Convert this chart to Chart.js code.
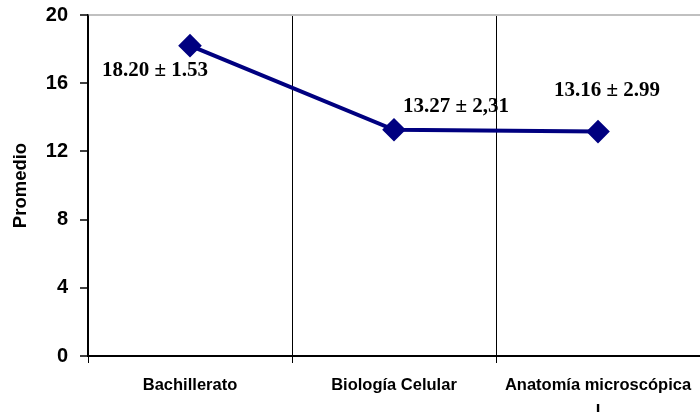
<!DOCTYPE html>
<html>
<head>
<meta charset="utf-8">
<script src="https://cdn.jsdelivr.net/npm/chart.js@4/dist/chart.umd.min.js"></script>
<style>
    html, body { margin: 0; padding: 0; background: #fff; overflow: hidden; }
    canvas { display: block; }
</style>
</head>
<body>
<canvas id="graficoPromedio" width="700" height="412"></canvas>
<script>
const categorias = [
    "Bachillerato",
    "Biología Celular",
    ["Anatomía microscópica", "I"]
];
const promedios = [18.20, 13.27, 13.16];
const etiquetas = ["18.20 ± 1.53", "13.27 ± 2,31", "13.16 ± 2.99"];
const marcasY = [0, 4, 8, 12, 16, 20];

// desplazamiento de cada etiqueta respecto a su punto
const desplazamientos = [[-35, 25], [62, -23], [9, -41]];

const etiquetasPlugin = {
    id: "etiquetasPromedio",
    afterDatasetsDraw(chart) {
        const ctx = chart.ctx;
        const puntos = chart.getDatasetMeta(0).data;
        ctx.save();
        ctx.font = "bold 21px 'Liberation Serif', 'Times New Roman', serif";
        ctx.fillStyle = "#000";
        ctx.textAlign = "center";
        ctx.textBaseline = "middle";
        puntos.forEach((p, i) => {
            const d = desplazamientos[i];
            ctx.fillText(etiquetas[i], p.x + d[0], p.y + d[1]);
        });
        ctx.restore();
    }
};

const ctx = document.getElementById("graficoPromedio").getContext("2d");

new Chart(ctx, {
    type: "line",
    data: {
        labels: categorias,
        datasets: [{
            data: promedios,
            borderColor: "#000080",
            backgroundColor: "#000080",
            borderWidth: 4,
            pointStyle: "rectRot",
            pointRadius: 9,
            pointHoverRadius: 9,
            tension: 0
        }]
    },
    options: {
        responsive: false,
        devicePixelRatio: 1,
        animation: false,
        events: [],
        layout: {
            autoPadding: false,
            padding: { top: 15, right: 0, left: 0, bottom: 0 }
        },
        plugins: {
            legend: { display: false },
            tooltip: { enabled: false }
        },
        scales: {
            x: {
                type: "category",
                offset: true,
                afterFit(scale) {
                    scale.height = 56;
                    scale.paddingLeft = 0;
                    scale.paddingRight = 0;
                },
                grid: {
                    offset: true,
                    color: "#000",
                    lineWidth: 1,
                    tickLength: 7
                },
                border: { color: "#000", width: 2 },
                ticks: {
                    color: "#000",
                    padding: 9,
                    maxRotation: 0,
                    autoSkip: false,
                    font: { family: "'Liberation Sans', Arial, sans-serif", size: 16.5, weight: "bold", lineHeight: 1.6 }
                }
            },
            y: {
                min: 0,
                max: 20,
                afterFit(scale) {
                    scale.width = 88;
                    scale.paddingTop = 0;
                    scale.paddingBottom = 0;
                },
                afterBuildTicks(scale) {
                    scale.ticks = marcasY.map(v => ({ value: v }));
                },
                grid: {
                    color: c => (c.tick && c.tick.value === 20) ? "#c0c0c0" : "rgba(0,0,0,0)",
                    lineWidth: 2,
                    tickColor: "#000",
                    tickWidth: 1.5,
                    tickLength: 8
                },
                border: { color: "#000", width: 1.5 },
                ticks: {
                    color: "#000",
                    padding: 12,
                    font: { family: "'Liberation Sans', Arial, sans-serif", size: 20, weight: "bold" }
                },
                title: {
                    display: true,
                    text: "Promedio",
                    color: "#000",
                    padding: { top: 10, bottom: 0 },
                    font: { family: "'Liberation Sans', Arial, sans-serif", size: 18.5, weight: "bold" }
                }
            }
        }
    },
    plugins: [etiquetasPlugin]
});
</script>
</body>
</html>
